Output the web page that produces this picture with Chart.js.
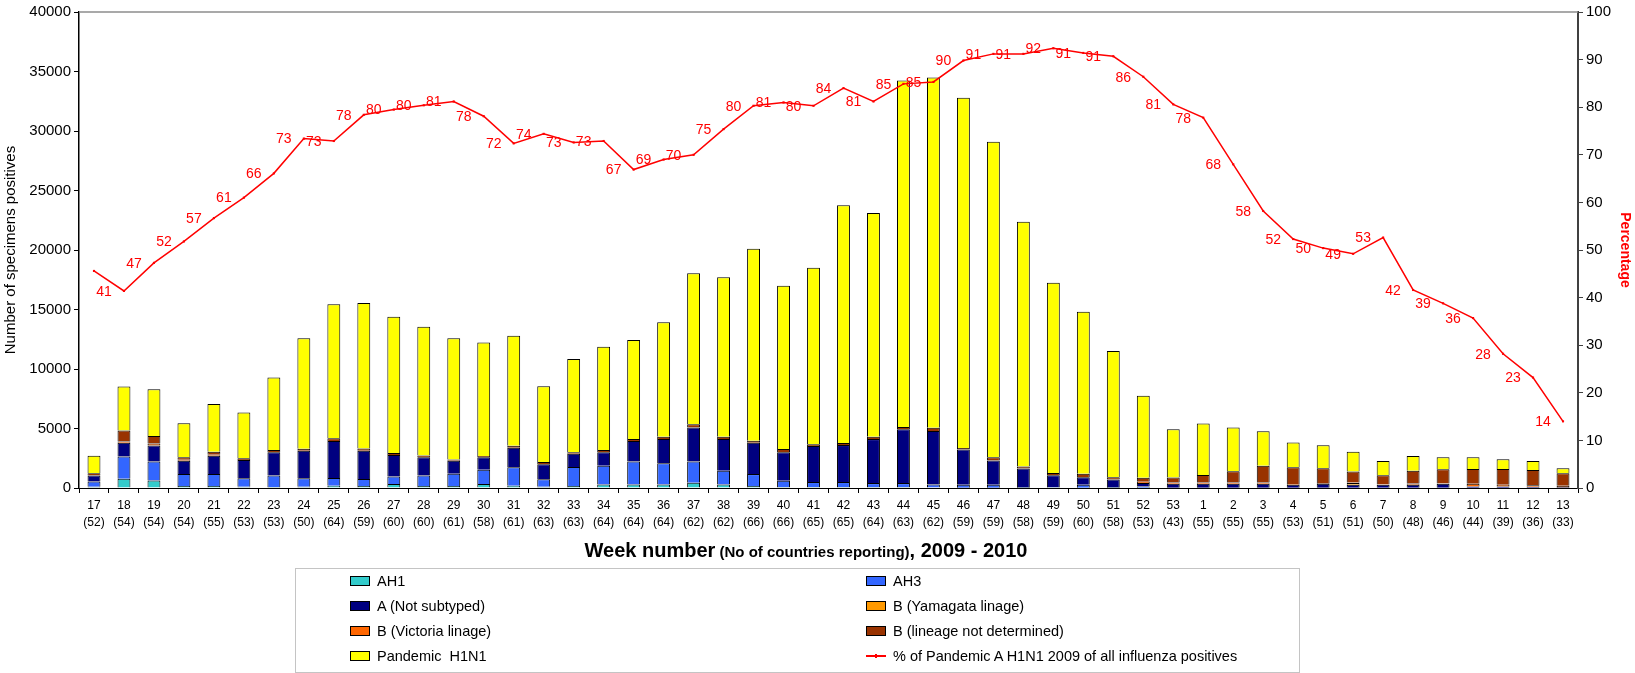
<!DOCTYPE html>
<html>
<head>
<meta charset="utf-8">
<script src="https://cdn.jsdelivr.net/npm/chart.js@4.4.1/dist/chart.umd.min.js"></script>
<style>
  html, body { margin: 0; padding: 0; background: #fff; }
  #wrap { position: relative; width: 1635px; height: 673px; }
  #legend {
    position: absolute; left: 295px; top: 568px; width: 1005px; height: 105px;
    border: 1px solid #c4c4c4; box-sizing: border-box;
    font-family: "Liberation Sans", Arial, sans-serif; font-size: 14.5px; color: #000;
  }
  .item { position: absolute; display: flex; align-items: center; height: 20px; white-space: pre; }
  .sw { width: 18px; height: 8px; border: 1px solid #000; margin-right: 7px; }
  .ln { width: 20px; height: 10px; margin-right: 7px; position: relative; }
  .ln::before { content: ""; position: absolute; left: 0; right: 0; top: 4px; height: 2px; background: #ff0000; }
  .ln::after { content: ""; position: absolute; left: 9px; top: 3px; width: 2px; height: 4px; background: #ff0000; }
</style>
</head>
<body>
<div id="wrap">
  <canvas id="fluChart" width="1635" height="673"></canvas>
  <div id="legend"></div>
</div>
<script>
// week number and number of countries reporting
const weeks = ['17','18','19','20','21','22','23','24','25','26','27','28','29','30','31','32','33','34','35','36',
  '37','38','39','40','41','42','43','44','45','46','47','48','49','50','51','52','53',
  '1','2','3','4','5','6','7','8','9','10','11','12','13'];
const countries = [52,54,54,54,55,53,53,50,64,59,60,60,61,58,61,63,63,64,64,64,
  62,62,66,66,65,65,64,63,62,59,59,58,59,60,58,53,43,
  55,55,55,53,51,51,50,48,46,44,39,36,33];

// specimens positive, by type
const ah1 = [100,780,640,170,170,100,80,100,190,170,330,170,170,330,190,100,170,300,300,300,
  440,300,170,80,80,80,80,80,50,30,30,20,20,20,20,20,0,
  0,0,0,0,0,0,0,0,0,0,0,0,0];
const ah3 = [450,1860,1580,1000,1000,720,970,720,640,580,640,890,1030,1200,1560,640,1590,1560,1920,1780,
  1780,1140,1000,530,420,420,330,330,250,250,250,60,50,250,60,110,30,
  30,30,30,30,30,20,20,20,20,20,20,20,10];
const aNotSubtyped = [500,1170,1360,1110,1530,1530,1950,2310,3110,2390,1800,1530,1080,1060,1640,1250,1110,1140,1720,2030,
  2860,2670,2640,2390,3030,3110,3700,4530,4480,2950,2030,1560,1000,640,640,300,330,
  330,330,330,250,330,250,250,250,330,110,110,80,30];
const bYamagata = [0,0,0,0,0,0,0,0,0,0,0,0,0,0,0,0,0,0,0,0,
  0,0,0,0,0,0,0,0,0,0,0,0,0,0,0,0,0,
  0,0,0,0,0,140,0,0,0,0,0,0,0];
const bVictoria = [50,100,150,100,100,0,0,0,0,0,0,0,0,0,0,0,0,0,0,0,
  0,0,0,0,0,0,0,0,0,0,0,0,0,0,0,100,100,
  100,100,100,50,50,50,30,100,50,220,140,140,140];
const bNotDetermined = [150,920,640,200,250,150,200,170,250,170,170,150,120,100,170,190,140,190,170,190,
  280,190,170,280,140,170,190,190,280,140,280,170,190,280,190,330,420,
  640,950,1420,1420,1250,920,780,1080,1170,1250,1330,1280,1060];
const pandemicH1N1 = [1450,3700,3930,2870,4000,3850,6080,9280,11260,12240,11460,10820,10180,9530,9240,6370,7840,8690,8330,9630,
  12680,13400,16120,13720,14830,19990,18800,29120,29440,29430,26510,20560,15990,13630,10610,6890,4050,
  4310,3670,2880,2080,1940,1670,1190,1240,1010,990,810,750,430];

// % of pandemic A H1N1 2009 of all influenza positives
const pctPandemic = [45.6,41.4,47.3,51.8,56.7,61.0,66.1,73.4,72.9,78.4,79.5,80.4,81.2,78.1,72.4,74.4,72.6,72.9,66.9,69.0,
  70.0,75.4,80.3,81.0,80.3,84.0,81.2,84.9,85.3,89.8,91.2,91.2,92.4,91.4,90.7,86.4,80.6,
  77.8,68.0,58.2,52.3,50.4,49.2,52.6,41.6,38.8,35.7,28.2,23.2,14.0];

const leftTicks = [0, 40000, 5000];
const rightTicks = [0, 100, 10];

const FONT = '"Liberation Sans", Arial, sans-serif';

const barSeries = [
  ['AH1', ah1, '#33CCCC'],
  ['AH3', ah3, '#3366FF'],
  ['A (Not subtyped)', aNotSubtyped, '#000080'],
  ['B (Yamagata linage)', bYamagata, '#FF9900'],
  ['B (Victoria linage)', bVictoria, '#FF6600'],
  ['B (lineage not determined)', bNotDetermined, '#993300'],
  ['Pandemic  H1N1', pandemicH1N1, '#FFFF00']
];

const datasets = barSeries.map(([label, values, color]) => ({
  type: 'bar',
  label: label,
  data: values.map(v => v === 0 ? null : v),
  backgroundColor: color,
  borderColor: '#000',
  borderWidth: 1,
  stack: 'flu',
  yAxisID: 'y',
  order: 1,
  barPercentage: 0.43,
  categoryPercentage: 1
}));

datasets.push({
  type: 'line',
  label: '% of Pandemic A H1N1 2009 of all influenza positives',
  data: pctPandemic,
  yAxisID: 'y2',
  borderColor: '#FF0000',
  backgroundColor: '#FF0000',
  borderWidth: 1.5,
  pointRadius: 1.5,
  pointStyle: 'rect',
  pointBorderWidth: 0,
  tension: 0,
  order: 0
});

const extras = {
  id: 'extras',
  afterDatasetsDraw(chart) {
    const ctx = chart.ctx;
    const area = chart.chartArea;
    ctx.save();
    // grey frame line along the top of the plot
    ctx.strokeStyle = '#8c8c8c';
    ctx.lineWidth = 1.5;
    ctx.beginPath();
    ctx.moveTo(area.left, area.top);
    ctx.lineTo(area.right, area.top);
    ctx.stroke();

    // value labels, left of each point (first week has none)
    const meta = chart.getDatasetMeta(datasets.length - 1);
    ctx.fillStyle = '#FF0000';
    ctx.font = '14px ' + FONT;
    ctx.textAlign = 'center';
    ctx.textBaseline = 'middle';
    meta.data.forEach((pt, i) => {
      if (i === 0) return;
      ctx.fillText(String(Math.round(pctPandemic[i])), pt.x - 20, pt.y + 1);
    });

    // x axis title with smaller middle part
    const parts = [
      ['Week number', 'bold 20px ' + FONT],
      [' (No of countries reporting)', 'bold 15px ' + FONT],
      [', 2009 - 2010', 'bold 20px ' + FONT]
    ];
    let total = 0;
    parts.forEach(p => { ctx.font = p[1]; total += ctx.measureText(p[0]).width; });
    let x = 806 - total / 2;
    ctx.fillStyle = '#000';
    ctx.textAlign = 'left';
    ctx.textBaseline = 'alphabetic';
    parts.forEach(p => {
      ctx.font = p[1];
      ctx.fillText(p[0], x, 557);
      x += ctx.measureText(p[0]).width;
    });
    ctx.restore();
  }
};

const ctx = document.getElementById('fluChart').getContext('2d');
const fluChart = new Chart(ctx, {
  data: {
    labels: weeks.map((w, i) => [w, '(' + countries[i] + ')']),
    datasets: datasets
  },
  options: {
    responsive: false,
    animation: false,
    layout: { padding: { top: 11, left: 0, right: 0, bottom: 0 } },
    plugins: {
      legend: { display: false },
      tooltip: { enabled: false }
    },
    scales: {
      x: {
        stacked: true,
        grid: { offset: true, drawOnChartArea: false, drawTicks: true, tickLength: 5, color: '#000' },
        border: { color: '#000', width: 1 },
        ticks: { color: '#000', font: { family: FONT, size: 12, lineHeight: 1.4 }, padding: 4, maxRotation: 0, autoSkip: false },
        afterFit: s => { s.height = 185; }
      },
      y: {
        position: 'left',
        stacked: true,
        min: leftTicks[0],
        max: leftTicks[1],
        ticks: { stepSize: leftTicks[2], color: '#000', font: { family: FONT, size: 15 }, padding: 3,
                 callback: v => String(v) },
        grid: { drawOnChartArea: false, drawTicks: true, tickLength: 5, color: '#000' },
        border: { color: '#000', width: 1.5 },
        title: { display: true, text: 'Number of specimens positives', color: '#000', font: { family: FONT, size: 15 }, padding: 2 },
        afterFit: s => { s.width = 79; }
      },
      y2: {
        position: 'right',
        min: rightTicks[0],
        max: rightTicks[1],
        ticks: { stepSize: rightTicks[2], color: '#000', font: { family: FONT, size: 15 }, padding: 3 },
        grid: { drawOnChartArea: false, drawTicks: true, tickLength: 5, color: '#404040' },
        border: { color: '#404040', width: 2 },
        title: { display: true, text: 'Percentage', color: '#FF0000', font: { family: FONT, size: 14, weight: 'bold' }, padding: 2 },
        afterFit: s => { s.width = 57; }
      }
    }
  },
  plugins: [extras]
});

// two-column legend box under the chart
const legendEl = document.getElementById('legend');
fluChart.data.datasets.forEach((ds, i) => {
  const item = document.createElement('div');
  item.className = 'item';
  item.style.left = (i % 2 === 0 ? 54 : 570) + 'px';
  item.style.top = (2 + Math.floor(i / 2) * 25) + 'px';
  const mark = document.createElement('span');
  if (ds.type === 'line') {
    mark.className = 'ln';
  } else {
    mark.className = 'sw';
    mark.style.background = ds.backgroundColor;
  }
  item.appendChild(mark);
  item.appendChild(document.createTextNode(ds.label));
  legendEl.appendChild(item);
});
</script>
</body>
</html>
